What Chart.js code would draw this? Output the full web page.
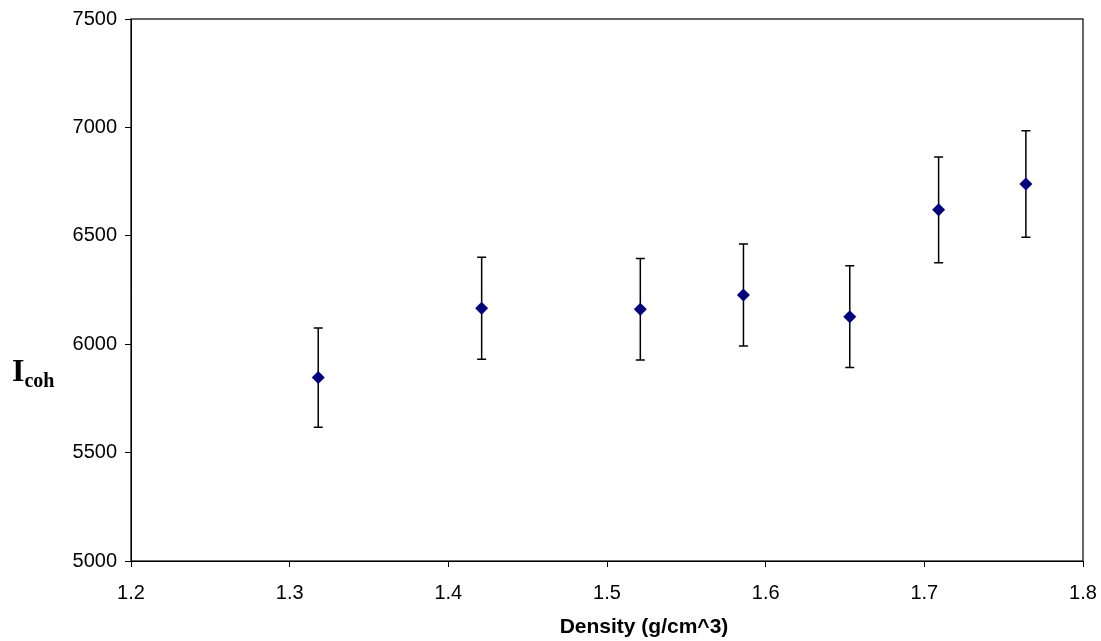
<!DOCTYPE html>
<html>
<head>
<meta charset="utf-8">
<script src="https://cdn.jsdelivr.net/npm/chart.js"></script>
<style>
  html, body { margin: 0; padding: 0; background: #fff; }
  #wrap { position: relative; width: 1101px; height: 641px; }
  #ylab {
    position: absolute; left: 12px; top: 354px;
    font-family: "Liberation Serif", "Times New Roman", serif;
    font-weight: bold; font-size: 32px; line-height: 1; color: #000;
  }
  #ylab sub { font-size: 20px; vertical-align: baseline; position: relative; top: 6px; }
  #xlab {
    position: absolute; left: 494px; width: 300px; top: 615px; text-align: center;
    font-family: "Liberation Sans", Arial, sans-serif;
    font-weight: bold; font-size: 21px; line-height: 1; color: #000;
  }
</style>
</head>
<body>
<div id="wrap">
  <canvas id="myChart" width="1101" height="641"></canvas>
  <div id="ylab">I<sub>coh</sub></div>
  <div id="xlab"></div>
</div>
<script>
// density (g/cm^3), coherent intensity and its error bar
const density = [1.318, 1.421, 1.521, 1.586, 1.653, 1.709, 1.764];
const icoh = [5846, 6166, 6161, 6227, 6127, 6620, 6739];
const errors = [229, 235, 234, 235, 235, 244, 246];

const xTitle = 'Density (g/cm^3)';
document.getElementById('xlab').textContent = xTitle;

// error bars drawn under the markers
const errorBars = {
  id: 'errorBars',
  beforeDatasetsDraw(chart) {
    const ctx = chart.ctx, x = chart.scales.x, y = chart.scales.y;
    ctx.save();
    ctx.strokeStyle = '#000';
    ctx.lineWidth = 1.5;
    density.forEach((d, i) => {
      const px = x.getPixelForValue(d);
      const top = y.getPixelForValue(icoh[i] + errors[i]);
      const bot = y.getPixelForValue(icoh[i] - errors[i]);
      ctx.beginPath();
      ctx.moveTo(px, top); ctx.lineTo(px, bot);
      ctx.moveTo(px - 4.5, top); ctx.lineTo(px + 4.5, top);
      ctx.moveTo(px - 4.5, bot); ctx.lineTo(px + 4.5, bot);
      ctx.stroke();
    });
    ctx.restore();
  }
};

// box round the plot area
const frame = {
  id: 'frame',
  afterDraw(chart) {
    const a = chart.chartArea, ctx = chart.ctx;
    ctx.save();
    ctx.strokeStyle = '#000';
    ctx.lineWidth = 1.2;
    ctx.strokeRect(a.left, a.top, a.right - a.left, a.bottom - a.top);
    ctx.restore();
  }
};

const tickFont = { family: '"Liberation Sans", Arial, sans-serif', size: 20 };

new Chart(document.getElementById('myChart'), {
  type: 'scatter',
  data: {
    datasets: [{
      data: density.map((d, i) => ({ x: d, y: icoh[i] })),
      pointStyle: 'rectRot',
      pointRadius: 6.5,
      pointHoverRadius: 6.5,
      backgroundColor: '#000080',
      borderColor: '#000080',
      borderWidth: 0,
      showLine: false
    }]
  },
  options: {
    responsive: false,
    animation: false,
    layout: { padding: { top: 19, right: 18, left: 0, bottom: 0 } },
    plugins: { legend: { display: false }, tooltip: { enabled: false } },
    scales: {
      x: {
        type: 'linear', min: 1.2, max: 1.8,
        afterFit: (s) => { s.height = 80; s.paddingLeft = 0; s.paddingRight = 0; },
        ticks: { stepSize: 0.1, color: '#000', font: tickFont, padding: 14,
                 callback: (v) => v.toFixed(1) },
        grid: { drawOnChartArea: false, drawTicks: true, tickLength: 6, color: '#000' },
        border: { display: true, color: '#000', width: 1 }
      },
      y: {
        type: 'linear', min: 5000, max: 7500,
        afterFit: (s) => { s.width = 131; s.paddingTop = 0; s.paddingBottom = 0; },
        ticks: { stepSize: 500, color: '#000', font: tickFont, padding: 8,
                 callback: (v) => String(v) },
        grid: { drawOnChartArea: false, drawTicks: true, tickLength: 6, color: '#000' },
        border: { display: true, color: '#000', width: 1 }
      }
    }
  },
  plugins: [errorBars, frame]
});
</script>
</body>
</html>
